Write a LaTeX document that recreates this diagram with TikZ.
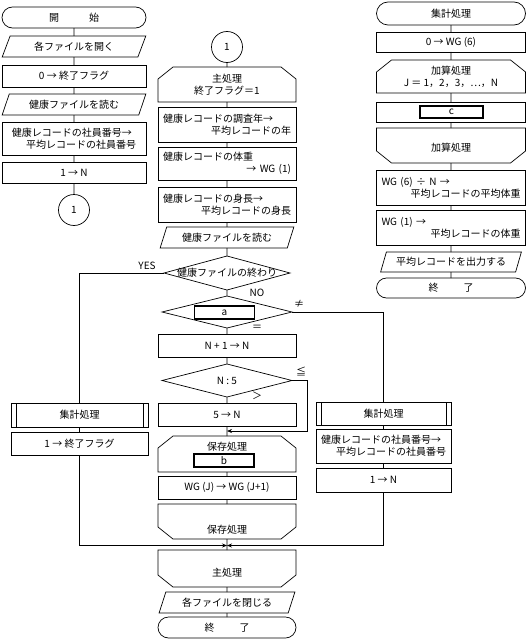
\documentclass[tikz,border=0pt]{standalone}
\usepackage{fontspec}
\newfontfamily\jp{Noto Sans CJK JP}
\usetikzlibrary{shapes.geometric,shapes.misc,arrows.meta}

\begin{document}
\begin{tikzpicture}[x=1pt,y=-1pt,line width=0.7pt,
	font=\jp\fontsize{10}{12}\selectfont,
	>={Stealth[length=5pt,width=4pt]},
	base/.style={draw,inner sep=0pt,outer sep=0pt,align=center},
	term/.style 2 args={base,rounded rectangle,minimum width=#1,minimum height=#2},
	proc/.style 2 args={base,rectangle,minimum width=#1,minimum height=#2},
	pred/.style 2 args={proc={#1}{#2},path picture={
		\draw ([xshift=5pt]path picture bounding box.north west) -- ([xshift=5pt]path picture bounding box.south west)
			([xshift=-5pt]path picture bounding box.north east) -- ([xshift=-5pt]path picture bounding box.south east);}},
	io/.style 2 args={base,trapezium,trapezium left angle=62,trapezium right angle=118,
		trapezium stretches=true,minimum width=#1,minimum height=#2},
	loopst/.style 2 args={proc={#1}{#2},draw=none,append after command={\pgfextra{\draw
		([yshift=-12pt]\tikzlastnode.north west) -- ([xshift=15pt]\tikzlastnode.north west)
		-- ([xshift=-15pt]\tikzlastnode.north east) -- ([yshift=-12pt]\tikzlastnode.north east)
		-- (\tikzlastnode.south east) -- (\tikzlastnode.south west) -- cycle;}}},
	loopend/.style 2 args={proc={#1}{#2},draw=none,append after command={\pgfextra{\draw
		([yshift=12pt]\tikzlastnode.south west) -- ([xshift=15pt]\tikzlastnode.south west)
		-- ([xshift=-15pt]\tikzlastnode.south east) -- ([yshift=12pt]\tikzlastnode.south east)
		-- (\tikzlastnode.north east) -- (\tikzlastnode.north west) -- cycle;}}},
	dec/.style 2 args={base,diamond,aspect=4,minimum width=#1,minimum height=#2},
	conn/.style={base,circle,minimum size=31pt},
	slot/.style={base,line width=1.1pt,minimum width=60pt,minimum height=13pt},
	two/.style={text width=#1,align=left},
	lbl/.style={inner sep=1pt}]
	\useasboundingbox (0,0) rectangle (530,642);

	% left column
	\node[term={144pt}{21pt}] (start) at (74,17.5) {開\hspace{3em}始};
	\node[io={144pt}{21pt}] (open) at (74,46.5) {各ファイルを開く};
	\node[proc={144pt}{22pt}] (flag0) at (74,76) {0 → 終了フラグ};
	\node[io={144pt}{21pt}] (read1) at (74,104.5) {健康ファイルを読む};
	\node[proc={144pt}{33pt},two=124pt] (id1) at (74,138.5) {健康レコードの社員番号→\\\hspace*{\fill}平均レコードの社員番号};
	\node[proc={144pt}{21pt}] (n1) at (74,172.5) {1 → N};
	\node[conn] (c1) at (74,210) {1};
	\draw (start) -- (open) -- (flag0) -- (read1) -- (id1) -- (n1) -- (c1);

	% main column
	\node[conn] (c2) at (227,47) {1};
	\node[loopst={138pt}{35pt}] (mainst) at (227,84.5) {主処理\\終了フラグ＝1};
	\node[proc={138pt}{35pt},two=128pt] (year) at (227,124.5) {健康レコードの調査年→\\\hspace*{\fill}平均レコードの年};
	\node[proc={138pt}{33pt},two=128pt] (wt) at (227,163.5) {健康レコードの体重\\\hspace*{\fill}→ WG (1)};
	\node[proc={138pt}{35pt},two=128pt] (ht) at (227,204.5) {健康レコードの身長→\\\hspace*{\fill}平均レコードの身長};
	\node[io={134pt}{21pt}] (read2) at (227,237.5) {健康ファイルを読む};
	\node[dec={126pt}{34pt},label={center:健康ファイルの終わり}] (eof) at (227,273) {};
	\node[dec={130pt}{32pt}] (qa) at (227,312) {};
	\node[slot] (a) at (224.5,312.5) {a};
	\node[proc={138pt}{23pt}] (inc) at (227,345.5) {N + 1 → N};
	\node[dec={130pt}{33pt}] (q5) at (227,380.5) {N : 5};
	\node[proc={138pt}{23pt}] (set5) at (227,414.5) {5 → N};
	\coordinate (mrg) at (227,431);
	\node[loopst={138pt}{36pt}] (savest) at (227,454) {};
	\node (savelbl) at (227,446.5) {保存処理};
	\node[slot] (b) at (224,460.5) {b};
	\node[proc={138pt}{23pt}] (shift) at (227,487.5) {WG (J) → WG (J+1)};
	\node[loopend={138pt}{35pt}] (saveend) at (227,521.5) {};
	\node (saveendlbl) at (227,530) {保存処理};
	\coordinate (join) at (227,545.5);
	\node[loopend={138pt}{37pt}] (mainend) at (227,568.5) {};
	\node (mainendlbl) at (227,573) {主処理};
	\node[io={136pt}{21pt}] (close) at (227,602.5) {各ファイルを閉じる};
	\node[term={138pt}{21pt}] (stop) at (227,627.5) {終\hspace{2.5em}了};
	\draw (c2) -- (mainst) -- (year) -- (wt) -- (ht) -- (read2) -- (eof) -- (qa) -- (inc) -- (q5) -- (set5)
		-- (savest) -- (shift) -- (saveend) -- (mainend) -- (close) -- (stop);

	% branches
	\node[pred={137pt}{24pt}] (sumL) at (79.5,415) {集計処理};
	\node[proc={137pt}{23pt}] (flag1) at (79.5,443.5) {1 → 終了フラグ};
	\node[pred={135pt}{23pt}] (sumR) at (383.5,413.5) {集計処理};
	\node[proc={135pt}{34pt},two=125pt] (id2) at (383.5,446) {健康レコードの社員番号→\\\hspace*{\fill}平均レコードの社員番号};
	\node[proc={135pt}{24pt}] (n2) at (383.5,480) {1 → N};
	\draw (eof.west) -| (sumL);
	\draw (sumL) -- (flag1);
	\draw[->] (flag1) |- (join);
	\draw (qa.east) -| (sumR);
	\draw (sumR) -- (id2) -- (n2);
	\draw[->] (n2) |- (join);
	\draw[->] (q5.east) -- ++(15,0) |- (mrg);
	\node[lbl,anchor=south east] (yes) at (157,271) {YES};
	\node[lbl] (no) at (257,293) {NO};
	\node[lbl] (ne) at (299,304) {≠};
	\node[lbl] (eq) at (257,328) {＝};
	\node[lbl] (le) at (301,371) {≦};
	\node[lbl] (gt) at (257,396) {＞};

	% right column
	\node[term={149pt}{23pt}] (sumst) at (451,13.5) {集計処理};
	\node[proc={149pt}{20pt}] (wg0) at (451,42) {0 → WG (6)};
	\node[loopst={149pt}{33pt}] (addst) at (451,76.5) {加算処理\\J ＝ 1，2，3，…，N};
	\node[proc={149pt}{20pt}] (cbox) at (451,112) {};
	\node[slot,minimum width=63pt,minimum height=12pt] (c) at (451.5,112) {c};
	\node[loopend={149pt}{35pt}] (addend) at (451,145.5) {};
	\node (addendlbl) at (451,148) {加算処理};
	\node[proc={149pt}{35pt},two=139pt] (avg) at (451,187.5) {WG (6) ÷ N →\\\hspace*{\fill}平均レコードの平均体重};
	\node[proc={149pt}{35pt},two=139pt] (wg1) at (451,227.5) {WG (1) →\\\hspace*{\fill}平均レコードの体重};
	\node[io={141pt}{20pt}] (out) at (451,262) {平均レコードを出力する};
	\node[term={149pt}{20pt}] (fin) at (451,288) {終\hspace{2.5em}了};
	\draw (sumst) -- (wg0) -- (addst) -- (cbox) -- (addend) -- (avg) -- (wg1) -- (out) -- (fin);
\end{tikzpicture}
\end{document}
